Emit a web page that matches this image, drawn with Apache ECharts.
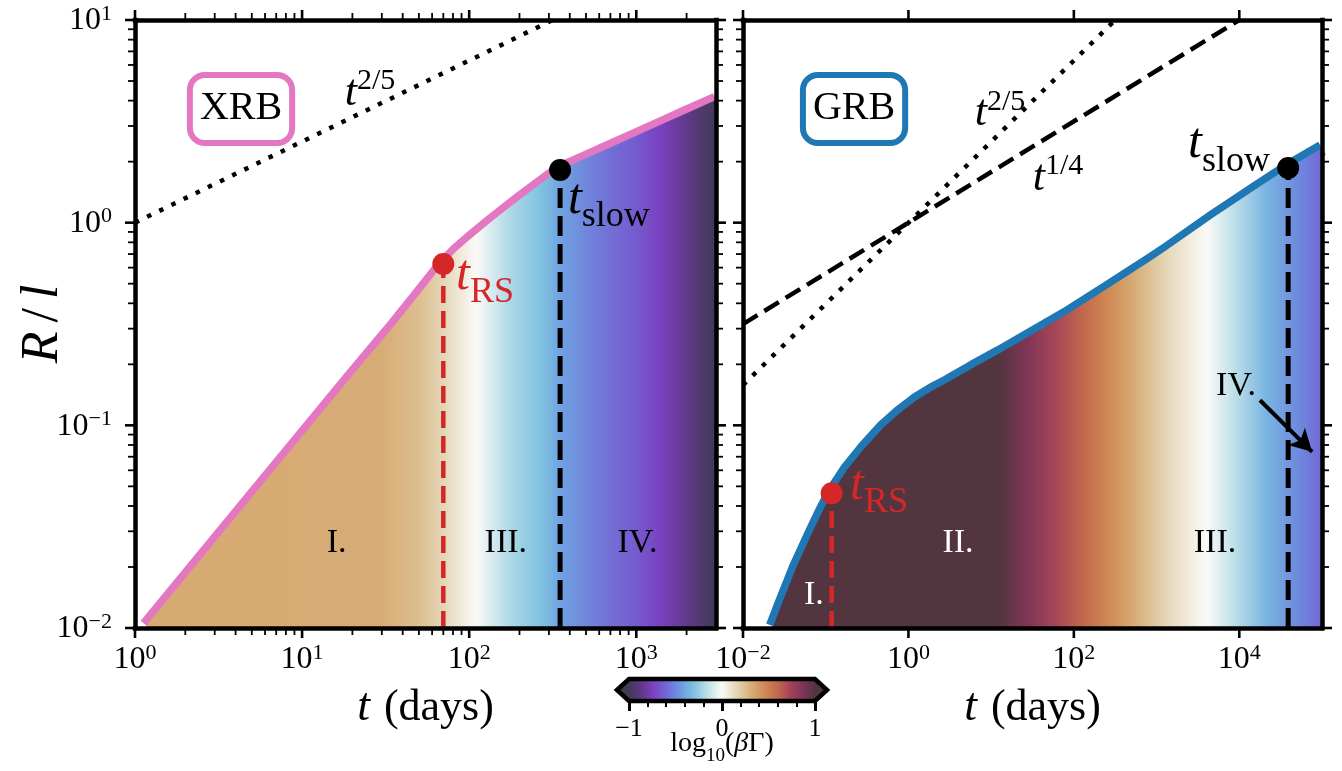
<!DOCTYPE html>
<html><head><meta charset="utf-8">
<script src="https://cdn.jsdelivr.net/npm/echarts@6/dist/echarts.min.js"></script>
<style>html,body{margin:0;padding:0;background:#fff}#c{width:1342px;height:771px}</style>
</head><body><div id="c"></div>
<script>
// ================= DATA =================
// XRB panel: R/l against t (days)
const xrbT = [1.17, 2, 5, 10, 20, 35, 50, 70, 85, 100, 130, 160, 200, 260, 300, 350, 500, 700, 1000, 1500, 2000, 3000];
const xrbR = [0.0103, 0.0176, 0.044, 0.088, 0.176, 0.305, 0.44, 0.625, 0.730, 0.821, 0.981, 1.125, 1.297, 1.527, 1.664, 1.82, 2.077, 2.352, 2.685, 3.118, 3.469, 4.03];
// GRB panel
const grbT = [0.0232, 0.03, 0.0446, 0.07, 0.09, 0.118, 0.18, 0.284, 0.5, 0.8, 1.25, 2, 3, 6, 12.7, 81, 250, 822, 1310, 5000, 15000, 39000, 100000];
const grbR = [0.0102, 0.0134, 0.0201, 0.030, 0.0371, 0.0462, 0.060, 0.0757, 0.0977, 0.1157, 0.133, 0.1496, 0.163, 0.192, 0.227, 0.351, 0.47, 0.643, 0.73, 1.07, 1.44, 1.86, 2.33];
// characteristic times [t, R/l]
const xrbRS = [70, 0.625];
const xrbSlow = [350, 1.82];
const grbRS = [0.118, 0.0462];
const grbSlow = [39000, 1.86];
// reference power laws [t, R/l] end points
const xrbPow25T = [1, 316];
const xrbPow25R = [1, 10];
const grbPow25T = [0.01, 316];
const grbPow25R = [0.158, 10];
const grbPow14T = [0.01, 10000];
const grbPow14R = [0.316, 10];
// log10(beta*Gamma) along t (colour of the filled region)
const xrbColorT = [1, 30, 50, 70, 110, 180, 270, 360, 620, 1000, 1400, 2100, 3000];
const xrbLogBG = [0.33, 0.32, 0.25, 0.15, 0.0, -0.2, -0.3, -0.42, -0.55, -0.65, -0.75, -0.88, -1.0];
const grbColorT = [0.01, 12.6, 29.5, 62, 128, 270, 513, 1320, 4000, 8300, 21400, 53000, 100000];
const grbLogBG = [1.0, 1.0, 0.85, 0.72, 0.6, 0.45, 0.33, 0.15, 0.0, -0.15, -0.35, -0.5, -0.6];
// colour map for log10(beta*Gamma)
const cmapVals = [-1, -0.85, -0.75, -0.6, -0.45, -0.3, -0.15, 0, 0.15, 0.3, 0.45, 0.6, 0.75, 0.88, 1];
const cmapCols = ['#403a53','#63398f','#7b40c0','#7467d6','#6b98e0','#7fc2e0','#c0e2e9','#fafaf7','#e4d7b8','#d9b17b','#d08b55','#c0684c','#a13f5a','#7a3558','#533540'];
// axis ranges and ticks
const xrbXRange = [1, 3000];
const grbXRange = [0.01, 100000];
const yRange = [0.01, 10];
const xrbXMajor = [1, 10, 100, 1000];
const grbXMajor = [0.01, 1, 100, 10000];
const yMajor = [0.01, 0.1, 1, 10];
// annotation anchors (data coordinates)
const xrbRegions = [[16.1, 0.0262, 'I.'], [165.6, 0.0262, 'III.'], [1017, 0.0262, 'IV.']];
const grbRegions = [[0.072, 0.01455, 'I.', '#fff'], [3.98, 0.0262, 'II.', '#fff'], [5090, 0.0262, 'III.', '#000'], [9140, 0.156, 'IV.', '#000']];
const grbArrow = [[17800, 0.133], [75900, 0.074]];

// ================= helpers =================
const SERIF = '"Liberation Serif", "Times New Roman", serif';
const PINK = '#e377c2', BLUE = '#1f77b4', RED = '#d62728';

function minorsOf(range) {
  const out = [];
  const e0 = Math.floor(Math.log10(range[0])), e1 = Math.ceil(Math.log10(range[1]));
  for (let e = e0; e <= e1; e++) for (let k = 2; k <= 9; k++) {
    const v = k * Math.pow(10, e);
    if (v > range[0] && v < range[1]) out.push(v);
  }
  return out;
}
const xrbXMinor = minorsOf(xrbXRange);
const yMinor = minorsOf(yRange);

function hex2rgb(h) { return [parseInt(h.slice(1,3),16), parseInt(h.slice(3,5),16), parseInt(h.slice(5,7),16)]; }
function cmap(v) {
  v = Math.max(-1, Math.min(1, v));
  let i = 0;
  while (i < cmapVals.length - 2 && v > cmapVals[i + 1]) i++;
  const f = (v - cmapVals[i]) / (cmapVals[i + 1] - cmapVals[i]);
  const a = hex2rgb(cmapCols[i]), b = hex2rgb(cmapCols[i + 1]);
  return 'rgb(' + a.map((c, k) => Math.round(c + (b[k] - c) * f)).join(',') + ')';
}
function expStr(v) { const e = Math.round(Math.log10(v)); return e < 0 ? '\u2212' + (-e) : String(e); }
function powLabel(v) { return '{b|10}{e|' + expStr(v) + '}'; }
const tickRich = {
  b: {fontFamily: SERIF, fontSize: 32, height: 32, lineHeight: 34, verticalAlign: 'bottom', color: '#000'},
  e: {fontFamily: SERIF, fontSize: 22, height: 22, lineHeight: 34, verticalAlign: 'top', color: '#000'}
};
const spine = {show: true, onZero: false, lineStyle: {color: '#000', width: 4.5, cap: 'square'}};

function xAxisDef(grid, range, pos, labels, fmt) {
  return {type: 'log', gridIndex: grid, position: pos, min: range[0], max: range[1], z: 20,
    axisLine: spine, axisTick: {show: false}, splitLine: {show: false}, minorTick: {show: false},
    axisLabel: labels ? {show: true, formatter: fmt, rich: tickRich, margin: 14, showMaxLabel: false} : {show: false},
    name: labels ? '{i|t}{sp| }{n|(days)}' : '', nameLocation: 'middle', nameGap: 57, nameMoveOverlap: false,
    nameTextStyle: {rich: {i: {fontFamily: SERIF, fontStyle: 'italic', fontSize: 46, lineHeight: 46, color: '#000'},
      sp: {width: 14, fontSize: 46}, n: {fontFamily: SERIF, fontSize: 44, lineHeight: 46, color: '#000'}}}};
}
function yAxisDef(grid, pos, labels, name) {
  const d = {type: 'log', gridIndex: grid, position: pos, min: yRange[0], max: yRange[1], z: 20,
    axisLine: spine, axisTick: {show: false}, splitLine: {show: false}, minorTick: {show: false},
    axisLabel: labels ? {show: true, formatter: powLabel, rich: tickRich, margin: 23} : {show: false}};
  if (name) {
    d.name = '{i|R}{n|/}{i|l}'; d.nameLocation = 'middle'; d.nameGap = 66; d.nameMoveOverlap = false;
    d.nameTextStyle = {rich: {i: {fontFamily: SERIF, fontStyle: 'italic', fontSize: 52, lineHeight: 52, color: '#000', padding: [0, 3, 0, 3]},
      n: {fontFamily: SERIF, fontSize: 52, lineHeight: 52, color: '#000', padding: [0, 6, 0, 6]}}};
  }
  return d;
}
function tickSeries(xIdx, yIdx, xr, yr, xMaj, xMin, yMaj, yMin) {
  const data = [];
  xMaj.forEach(v => data.push([v, yr[0], 1, 0]));
  xMin.forEach(v => data.push([v, yr[0], 0, 0]));
  yMaj.forEach(v => data.push([xr[0], v, 1, 1]));
  yMin.forEach(v => data.push([xr[0], v, 0, 1]));
  return {type: 'custom', xAxisIndex: xIdx, yAxisIndex: yIdx, clip: false, silent: true, z: 30, data,
    renderItem(params, api) {
      const v0 = api.value(0), v1 = api.value(1), major = api.value(2), kind = api.value(3);
      const L = major ? 10 : 7, W = major ? 2.6 : 1.8;
      const st = () => ({stroke: '#000', lineWidth: W});
      if (kind === 0) {
        const a = api.coord([v0, yr[0]]), b = api.coord([v0, yr[1]]);
        return {type: 'group', children: [
          {type: 'line', shape: {x1: a[0], y1: a[1], x2: a[0], y2: a[1] + L}, style: st()},
          {type: 'line', shape: {x1: b[0], y1: b[1], x2: b[0], y2: b[1] - L}, style: st()}]};
      }
      const a = api.coord([xr[0], v1]), b = api.coord([xr[1], v1]);
      return {type: 'group', children: [
        {type: 'line', shape: {x1: a[0], y1: a[1], x2: a[0] - L, y2: a[1]}, style: st()},
        {type: 'line', shape: {x1: b[0], y1: b[1], x2: b[0] + L, y2: b[1]}, style: st()}]};
    }};
}
const zip = (a, b) => a.map((v, i) => [v, b[i]]);
function lineS(x, y, data, color, width, type, z, id) {
  return {id, type: 'line', xAxisIndex: x, yAxisIndex: y, data, symbol: 'none', silent: true, z,
    lineStyle: {color, width, type, cap: 'butt', join: 'round', opacity: 1}};
}
function fillS(x, y, data, id) {
  return {id, type: 'line', xAxisIndex: x, yAxisIndex: y, data, symbol: 'none', silent: true, z: 3,
    lineStyle: {width: 0, opacity: 0}, areaStyle: {origin: 'start', opacity: 1, color: '#ccc'}};
}
function subLabel(main, sub, color, pos) {
  return {show: true, position: pos, distance: 0, opacity: 1, formatter: '{t|' + main + '}{s|' + sub + '}',
    rich: {t: {fontFamily: SERIF, fontStyle: 'italic', fontSize: 50, height: 50, lineHeight: 60, verticalAlign: 'top', color},
           s: {fontFamily: SERIF, fontSize: 36, height: 36, lineHeight: 60, verticalAlign: 'bottom', color}}};
}
function supLabel(main, sup) {
  return {show: true, position: 'inside', opacity: 1, formatter: '{t|' + main + '}{s|' + sup + '}',
    rich: {t: {fontFamily: SERIF, fontStyle: 'italic', fontSize: 44, height: 44, lineHeight: 49, verticalAlign: 'bottom', color: '#000'},
           s: {fontFamily: SERIF, fontSize: 30, height: 30, lineHeight: 49, verticalAlign: 'top', color: '#000'}}};
}
function boxLabel(text, color) {
  return {show: true, position: 'inside', opacity: 1, formatter: text, fontFamily: SERIF, fontSize: 40, lineHeight: 40, color: '#000',
    borderColor: color, borderWidth: 6, borderRadius: 12, padding: [11, 7, 11, 7], backgroundColor: '#fff'};
}
function regionItems(list) {
  return list.map(r => ({value: [r[0], r[1]], label: {show: true, position: 'inside', opacity: 1, formatter: r[2],
    fontFamily: SERIF, fontSize: 34, color: r[3] || '#000'}}));
}
const solidItem = {opacity: 1};

// ================= option =================
const option = {
  animation: false,
  backgroundColor: '#fff',
  textStyle: {fontFamily: SERIF},
  grid: [
    {left: 135, top: 20, width: 581, height: 608, outerBoundsMode: 'none'},
    {left: 743, top: 20, width: 579, height: 608, outerBoundsMode: 'none'},
    {left: 629, top: 679, width: 186, height: 22, outerBoundsMode: 'none'}
  ],
  xAxis: [
    xAxisDef(0, xrbXRange, 'bottom', true, powLabel),
    xAxisDef(0, xrbXRange, 'top', false),
    xAxisDef(1, grbXRange, 'bottom', true, v => (Math.round(Math.log10(v)) % 2 === 0 ? powLabel(v) : '')),
    xAxisDef(1, grbXRange, 'top', false),
    {type: 'value', gridIndex: 2, min: -1, max: 1, interval: 1, position: 'bottom', z: 20,
      axisLine: {show: false}, splitLine: {show: false},
      axisTick: {show: true, length: 10, lineStyle: {color: '#000', width: 3}},
      minorTick: {show: true, splitNumber: 5, length: 6, lineStyle: {color: '#000', width: 2}},
      axisLabel: {show: true, margin: 15, fontFamily: SERIF, fontSize: 26, color: '#000',
        formatter: v => (v < 0 ? '\u2212' + (-v) : String(v))},
      name: '{a|log}{s|10}{a|(}{g|\u03b2}{a|\u0393)}', nameLocation: 'middle', nameGap: 29, nameMoveOverlap: false,
      nameTextStyle: {rich: {
        a: {fontFamily: SERIF, fontSize: 28, height: 28, lineHeight: 36, verticalAlign: 'top', color: '#000'},
        g: {fontFamily: SERIF, fontStyle: 'italic', fontSize: 28, height: 28, lineHeight: 36, verticalAlign: 'top', color: '#000'},
        s: {fontFamily: SERIF, fontSize: 19, height: 19, lineHeight: 36, verticalAlign: 'bottom', color: '#000'}}}}
  ],
  yAxis: [
    yAxisDef(0, 'left', true, true),
    yAxisDef(0, 'right', false),
    yAxisDef(1, 'left', false),
    yAxisDef(1, 'right', false),
    {type: 'value', gridIndex: 2, min: 0, max: 1, show: false}
  ],
  series: [
    // XRB panel
    lineS(0, 0, zip(xrbT, xrbR), PINK, 15, 'solid', 2, 'xrbLine'),
    fillS(0, 0, zip(xrbT, xrbR), 'xrbFill'),
    lineS(0, 0, zip(xrbPow25T, xrbPow25R), '#000', 4.5, [4.5, 9], 4),
    lineS(0, 0, [[xrbRS[0], yRange[0]], xrbRS], RED, 4.5, [17, 8], 5),
    lineS(0, 0, [[xrbSlow[0], yRange[0]], xrbSlow], '#000', 5, [20, 8], 5),
    {type: 'scatter', xAxisIndex: 0, yAxisIndex: 0, silent: true, z: 8, symbolSize: 22, itemStyle: solidItem,
      data: [{value: xrbRS, itemStyle: {color: RED, opacity: 1}}, {value: xrbSlow, itemStyle: {color: '#000', opacity: 1}}]},
    {type: 'scatter', xAxisIndex: 0, yAxisIndex: 0, silent: true, z: 9, symbolSize: 0, itemStyle: solidItem,
      data: [
        {value: [4.31, 3.64], label: boxLabel('XRB', PINK)},
        {value: [25.5, 4.47], label: supLabel('t', '2/5')},
        {value: [83.4, 0.518], label: subLabel('t', 'RS', RED, 'right')},
        {value: [390, 1.23], label: subLabel('t', 'slow', '#000', 'right')}
      ].concat(regionItems(xrbRegions))},
    tickSeries(0, 0, xrbXRange, yRange, xrbXMajor, xrbXMinor, yMajor, yMinor),
    // GRB panel
    lineS(2, 2, zip(grbT, grbR), BLUE, 15, 'solid', 2, 'grbLine'),
    fillS(2, 2, zip(grbT, grbR), 'grbFill'),
    lineS(2, 2, zip(grbPow25T, grbPow25R), '#000', 4.5, [4.5, 9], 4),
    lineS(2, 2, zip(grbPow14T, grbPow14R), '#000', 4.5, [17, 8], 4),
    lineS(2, 2, [[grbRS[0], yRange[0]], grbRS], RED, 4.5, [17, 8], 5),
    lineS(2, 2, [[grbSlow[0], yRange[0]], grbSlow], '#000', 5, [20, 8], 5),
    {type: 'scatter', xAxisIndex: 2, yAxisIndex: 2, silent: true, z: 8, symbolSize: 22, itemStyle: solidItem,
      data: [{value: grbRS, itemStyle: {color: RED, opacity: 1}}, {value: grbSlow, itemStyle: {color: '#000', opacity: 1}}]},
    {type: 'scatter', xAxisIndex: 2, yAxisIndex: 2, silent: true, z: 9, symbolSize: 0, itemStyle: solidItem,
      data: [
        {value: [0.22, 3.64], label: boxLabel('GRB', BLUE)},
        {value: [12.8, 3.54], label: supLabel('t', '2/5')},
        {value: [64.3, 1.71], label: supLabel('t', '1/4')},
        {value: [0.197, 0.0477], label: subLabel('t', 'RS', RED, 'right')},
        {value: [23500, 2.30], label: subLabel('t', 'slow', '#000', 'left')}
      ].concat(regionItems(grbRegions))},
    {type: 'line', xAxisIndex: 2, yAxisIndex: 2, data: [], silent: true, z: 9,
      markLine: {silent: true, symbol: ['none', 'arrow'], symbolSize: [18, 22], animation: false,
        label: {show: false}, lineStyle: {color: '#000', width: 4, type: 'solid', opacity: 1},
        data: [[{coord: grbArrow[0]}, {coord: grbArrow[1]}]]}},
    tickSeries(2, 2, grbXRange, yRange, grbXMajor, [], yMajor, yMinor),
    // colour bar
    {type: 'custom', xAxisIndex: 4, yAxisIndex: 4, clip: false, silent: true, z: 30, data: [[0, 0]],
      renderItem(params, api) {
        const l = api.coord([-1, 0]), r = api.coord([1, 1]);
        const x0 = l[0], x1 = r[0], yb = l[1], yt = r[1], ym = (yb + yt) / 2, ext = 12;
        const stops = cmapVals.map((v, i) => ({offset: (v + 1) / 2, color: cmapCols[i]}));
        return {type: 'polygon', shape: {points: [[x0 - ext, ym], [x0, yt], [x1, yt], [x1 + ext, ym], [x1, yb], [x0, yb]]},
          style: {fill: new echarts.graphic.LinearGradient(x0, 0, x1, 0, stops, true), stroke: '#000', lineWidth: 4.5, lineJoin: 'miter'}};
      }}
  ]
};

const chart = echarts.init(document.getElementById('c'), null, {renderer: 'canvas'});
chart.setOption(option);

function fillGradient(xIdx, ts, vals) {
  const px = ts.map(t => chart.convertToPixel({xAxisIndex: xIdx}, t));
  const x0 = px[0], x1 = px[px.length - 1];
  const stops = px.map((p, i) => ({offset: Math.max(0, Math.min(1, (p - x0) / (x1 - x0))), color: cmap(vals[i])}));
  return new echarts.graphic.LinearGradient(x0, 0, x1, 0, stops, true);
}
chart.setOption({series: [
  {id: 'xrbFill', areaStyle: {origin: 'start', opacity: 1, color: fillGradient(0, xrbColorT, xrbLogBG)}},
  {id: 'grbFill', areaStyle: {origin: 'start', opacity: 1, color: fillGradient(2, grbColorT, grbLogBG)}}
]});
</script>
</body></html>
